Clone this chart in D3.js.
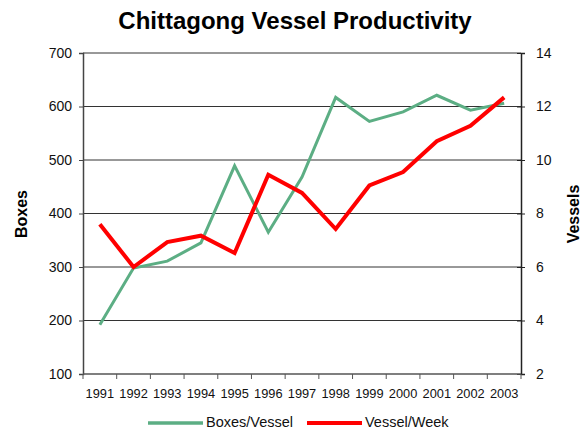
<!DOCTYPE html>
<html>
<head>
<meta charset="utf-8">
<script src="https://cdn.jsdelivr.net/npm/d3@7"></script>
<style>
  body { margin: 0; background: #fff; }
  text { font-family: "Liberation Sans", Arial, sans-serif; }
</style>
</head>
<body>
<div id="chart"></div>
<script>
let years = ["1991","1992","1993","1994","1995","1996","1997","1998","1999","2000","2001","2002","2003"]
let boxesPerVessel = [192, 298, 311, 345, 489, 365, 468, 617, 572, 590, 621, 593, 606]
let vesselsPerWeek = [7.6, 6.0, 6.93, 7.17, 6.52, 9.45, 8.77, 7.42, 9.05, 9.55, 10.7, 11.28, 12.34]
let leftTicks = [100, 200, 300, 400, 500, 600, 700]
let rightTicks = [2, 4, 6, 8, 10, 12, 14]

let width = 582
let height = 429
let margin = {top: 53, right: 61, bottom: 55, left: 83}

let svg = d3.select("#chart")
    .append("svg")
    .attr("width", width)
    .attr("height", height)

let x = d3.scaleBand()
    .domain(years)
    .range([margin.left, width - margin.right])

let yLeft = d3.scaleLinear()
    .domain([100, 700])
    .range([height - margin.bottom, margin.top])

let yRight = d3.scaleLinear()
    .domain([2, 14])
    .range([height - margin.bottom, margin.top])

// gridlines
svg.append("g")
    .selectAll("line")
    .data(leftTicks.slice(1))
    .enter()
    .append("line")
    .attr("x1", margin.left)
    .attr("x2", width - margin.right)
    .attr("y1", d => yLeft(d))
    .attr("y2", d => yLeft(d))
    .attr("stroke", "#333")
    .attr("stroke-width", 1)

// left axis
let leftAxis = svg.append("g")
    .attr("transform", `translate(${margin.left},0)`)
    .call(d3.axisLeft(yLeft).tickValues(leftTicks).tickSize(4).tickPadding(7))
leftAxis.select(".domain").attr("stroke", "#444").attr("stroke-width", 1.5)
leftAxis.selectAll(".tick line").attr("stroke", "#444")
leftAxis.selectAll("text").style("font-size", "14px").attr("fill", "#111")

// right axis
let rightAxis = svg.append("g")
    .attr("transform", `translate(${width - margin.right},0)`)
    .call(d3.axisRight(yRight).tickValues(rightTicks).tickSize(4).tickPadding(11))
rightAxis.select(".domain").attr("stroke", "#222").attr("stroke-width", 1.5)
rightAxis.selectAll(".tick line").attr("stroke", "#222").attr("x1", -4)
rightAxis.selectAll("text").style("font-size", "14px").attr("fill", "#111")

// bottom axis, ticks on band edges
let bottom = svg.append("g")
    .attr("transform", `translate(0,${height - margin.bottom})`)
bottom.append("line")
    .attr("x1", margin.left)
    .attr("x2", width - margin.right)
    .attr("stroke", "#555")
    .attr("stroke-width", 1.5)
bottom.selectAll("line.tk")
    .data(years.concat(["end"]))
    .enter()
    .append("line")
    .attr("class", "tk")
    .attr("x1", (d, i) => margin.left + i * x.bandwidth())
    .attr("x2", (d, i) => margin.left + i * x.bandwidth())
    .attr("y1", 0)
    .attr("y2", 5)
    .attr("stroke", "#555")
bottom.selectAll("text")
    .data(years)
    .enter()
    .append("text")
    .attr("x", d => x(d) + x.bandwidth() / 2)
    .attr("y", 24)
    .attr("text-anchor", "middle")
    .style("font-size", "12.8px")
    .attr("fill", "#111")
    .text(d => d)

// lines
let boxesLine = d3.line()
    .x((d, i) => x(years[i]) + x.bandwidth() / 2)
    .y(d => yLeft(d))

let vesselLine = d3.line()
    .x((d, i) => x(years[i]) + x.bandwidth() / 2)
    .y(d => yRight(d))

svg.append("path")
    .datum(boxesPerVessel)
    .attr("d", boxesLine)
    .attr("fill", "none")
    .attr("stroke", "#5cae84")
    .attr("stroke-width", 3)

svg.append("path")
    .datum(vesselsPerWeek)
    .attr("d", vesselLine)
    .attr("fill", "none")
    .attr("stroke", "#ff0000")
    .attr("stroke-width", 4)

// title
svg.append("text")
    .attr("x", 295)
    .attr("y", 29)
    .attr("text-anchor", "middle")
    .style("font-size", "24px")
    .style("font-weight", "bold")
    .attr("fill", "#000")
    .text("Chittagong Vessel Productivity")

// axis titles
svg.append("text")
    .attr("transform", "translate(27,214) rotate(-90)")
    .attr("text-anchor", "middle")
    .style("font-size", "16px")
    .style("font-weight", "bold")
    .text("Boxes")

svg.append("text")
    .attr("transform", "translate(579,214) rotate(-90)")
    .attr("text-anchor", "middle")
    .style("font-size", "16px")
    .style("font-weight", "bold")
    .text("Vessels")

// legend
let legend = [
    {name: "Boxes/Vessel", color: "#5cae84", x: 148, w: 3.5},
    {name: "Vessel/Week", color: "#ff0000", x: 307, w: 4}
]
let lg = svg.append("g")
lg.selectAll("line")
    .data(legend)
    .enter()
    .append("line")
    .attr("x1", d => d.x)
    .attr("x2", d => d.x + 55)
    .attr("y1", 423)
    .attr("y2", 423)
    .attr("stroke", d => d.color)
    .attr("stroke-width", d => d.w)
lg.selectAll("text")
    .data(legend)
    .enter()
    .append("text")
    .attr("x", d => d.x + 58)
    .attr("y", 427)
    .style("font-size", "14.5px")
    .attr("fill", "#111")
    .text(d => d.name)
</script>
</body>
</html>
